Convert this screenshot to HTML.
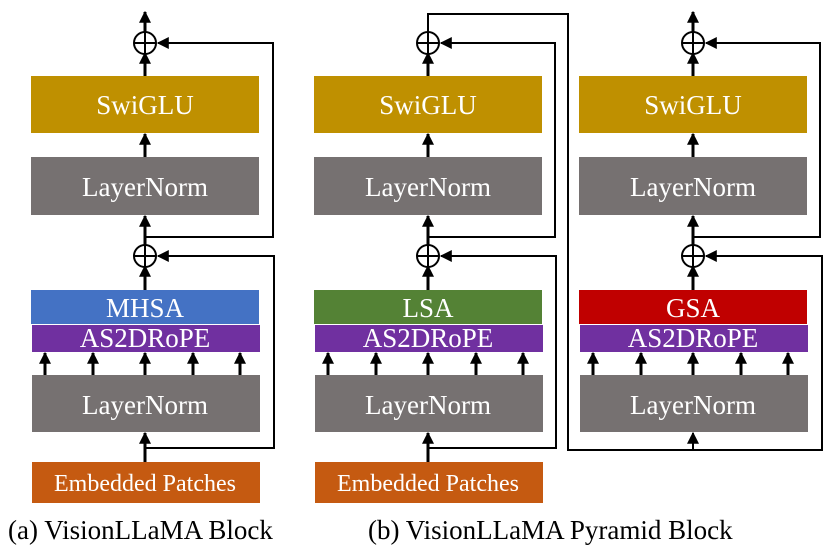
<!DOCTYPE html>
<html><head><style>body{margin:0;background:#fff}svg{display:block}svg text{font-family:'Liberation Serif','Noto Serif CJK SC',serif !important}</style></head><body>
<svg width="830" height="554" viewBox="0 0 830 554" xmlns="http://www.w3.org/2000/svg">
<defs>
<marker id="a" viewBox="0 0 10 10" refX="9" refY="5" markerWidth="4" markerHeight="4" orient="auto"><path d="M0,0L10,5L0,10z" fill="#000"/></marker>
<marker id="s" viewBox="0 0 10 10" refX="9" refY="5" markerWidth="6" markerHeight="6" orient="auto"><path d="M0,0L10,5L0,10z" fill="#000"/></marker>
</defs>
<g>
<rect x="31" y="76" width="228" height="57" fill="#bf9000"/>
<rect x="31" y="157" width="228" height="58" fill="#767171"/>
<rect x="31" y="290" width="228" height="34" fill="#4472c4"/>
<rect x="32" y="325" width="228" height="27" fill="#7030a0"/>
<rect x="32" y="375" width="228" height="57" fill="#767171"/>
<rect x="32" y="462" width="228" height="41" fill="#c55a11"/>
<g fill="#fff" font-size="27" text-anchor="middle">
<text x="145" y="114">SwiGLU</text><text x="145" y="196">LayerNorm</text>
<text x="145" y="317">MHSA</text><text x="145" y="347">AS2DRoPE</text>
<text x="145" y="414">LayerNorm</text><text x="145" y="491" font-size="24">Embedded Patches</text></g>
<g stroke="#000" stroke-width="3" fill="none" marker-end="url(#a)">
<line x1="145" y1="76" x2="145" y2="53"/><line x1="145" y1="32" x2="145" y2="12"/>
<line x1="145" y1="157" x2="145" y2="134"/><line x1="145" y1="290" x2="145" y2="266"/>
<line x1="145" y1="245" x2="145" y2="216"/><line x1="145" y1="462" x2="145" y2="433"/>
<line x1="45" y1="375" x2="45" y2="353"/><line x1="93" y1="375" x2="93" y2="353"/><line x1="145" y1="375" x2="145" y2="353"/><line x1="193" y1="375" x2="193" y2="353"/><line x1="240" y1="375" x2="240" y2="353"/>
</g>
<g stroke="#000" stroke-width="2" fill="none">
<circle cx="145" cy="43" r="11"/><line x1="134" y1="43" x2="156" y2="43"/><line x1="145" y1="32" x2="145" y2="54"/>
<circle cx="145" cy="256" r="11"/><line x1="134" y1="256" x2="156" y2="256"/><line x1="145" y1="245" x2="145" y2="267"/>
<polyline points="145,237 273,237 273,43 158,43" marker-end="url(#s)"/>
<polyline points="145,448 274,448 274,256 158,256" marker-end="url(#s)"/>
</g>
</g>
<g transform="translate(283,0)">
<rect x="31" y="76" width="228" height="57" fill="#bf9000"/>
<rect x="31" y="157" width="228" height="58" fill="#767171"/>
<rect x="31" y="290" width="228" height="34" fill="#548235"/>
<rect x="32" y="325" width="228" height="27" fill="#7030a0"/>
<rect x="32" y="375" width="228" height="57" fill="#767171"/>
<rect x="32" y="462" width="228" height="41" fill="#c55a11"/>
<g fill="#fff" font-size="27" text-anchor="middle">
<text x="145" y="114">SwiGLU</text><text x="145" y="196">LayerNorm</text>
<text x="145" y="317">LSA</text><text x="145" y="347">AS2DRoPE</text>
<text x="145" y="414">LayerNorm</text><text x="145" y="491" font-size="24">Embedded Patches</text></g>
<g stroke="#000" stroke-width="3" fill="none" marker-end="url(#a)">
<line x1="145" y1="76" x2="145" y2="53"/>
<line x1="145" y1="157" x2="145" y2="134"/><line x1="145" y1="290" x2="145" y2="266"/>
<line x1="145" y1="245" x2="145" y2="216"/><line x1="145" y1="462" x2="145" y2="433"/>
<line x1="45" y1="375" x2="45" y2="353"/><line x1="93" y1="375" x2="93" y2="353"/><line x1="145" y1="375" x2="145" y2="353"/><line x1="193" y1="375" x2="193" y2="353"/><line x1="240" y1="375" x2="240" y2="353"/>
</g>
<g stroke="#000" stroke-width="2" fill="none">
<circle cx="145" cy="43" r="11"/><line x1="134" y1="43" x2="156" y2="43"/><line x1="145" y1="32" x2="145" y2="54"/>
<circle cx="145" cy="256" r="11"/><line x1="134" y1="256" x2="156" y2="256"/><line x1="145" y1="245" x2="145" y2="267"/>
<polyline points="145,237 272,237 272,43 158,43" marker-end="url(#s)"/>
<polyline points="145,448 273,448 273,256 158,256" marker-end="url(#s)"/>
<polyline points="145,32 145,14 285,14 285,450 410,450"/>
</g>
</g>
<g transform="translate(548,0)">
<rect x="31" y="76" width="228" height="57" fill="#bf9000"/>
<rect x="31" y="157" width="228" height="58" fill="#767171"/>
<rect x="31" y="290" width="228" height="34" fill="#c00000"/>
<rect x="32" y="325" width="228" height="27" fill="#7030a0"/>
<rect x="32" y="375" width="228" height="57" fill="#767171"/>
<g fill="#fff" font-size="27" text-anchor="middle">
<text x="145" y="114">SwiGLU</text><text x="145" y="196">LayerNorm</text>
<text x="145" y="317">GSA</text><text x="145" y="347">AS2DRoPE</text>
<text x="145" y="414">LayerNorm</text></g>
<g stroke="#000" stroke-width="3" fill="none" marker-end="url(#a)">
<line x1="145" y1="76" x2="145" y2="53"/><line x1="145" y1="32" x2="145" y2="12"/>
<line x1="145" y1="157" x2="145" y2="134"/><line x1="145" y1="290" x2="145" y2="266"/>
<line x1="145" y1="245" x2="145" y2="216"/>
<line x1="45" y1="375" x2="45" y2="353"/><line x1="93" y1="375" x2="93" y2="353"/><line x1="145" y1="375" x2="145" y2="353"/><line x1="193" y1="375" x2="193" y2="353"/><line x1="240" y1="375" x2="240" y2="353"/>
</g>
<g stroke="#000" stroke-width="2" fill="none">
<line x1="145" y1="450" x2="145" y2="433" marker-end="url(#s)"/>
<circle cx="145" cy="43" r="11"/><line x1="134" y1="43" x2="156" y2="43"/><line x1="145" y1="32" x2="145" y2="54"/>
<circle cx="145" cy="256" r="11"/><line x1="134" y1="256" x2="156" y2="256"/><line x1="145" y1="245" x2="145" y2="267"/>
<polyline points="145,237 272,237 272,43 158,43" marker-end="url(#s)"/>
<polyline points="140,450 274,450 274,256 158,256" marker-end="url(#s)"/>
</g>
</g>
<g font-size="27" fill="#000">
<text x="8" y="539">(a) VisionLLaMA Block</text>
<text x="368" y="539">(b) VisionLLaMA Pyramid Block</text>
</g>
</svg>
</body></html>
